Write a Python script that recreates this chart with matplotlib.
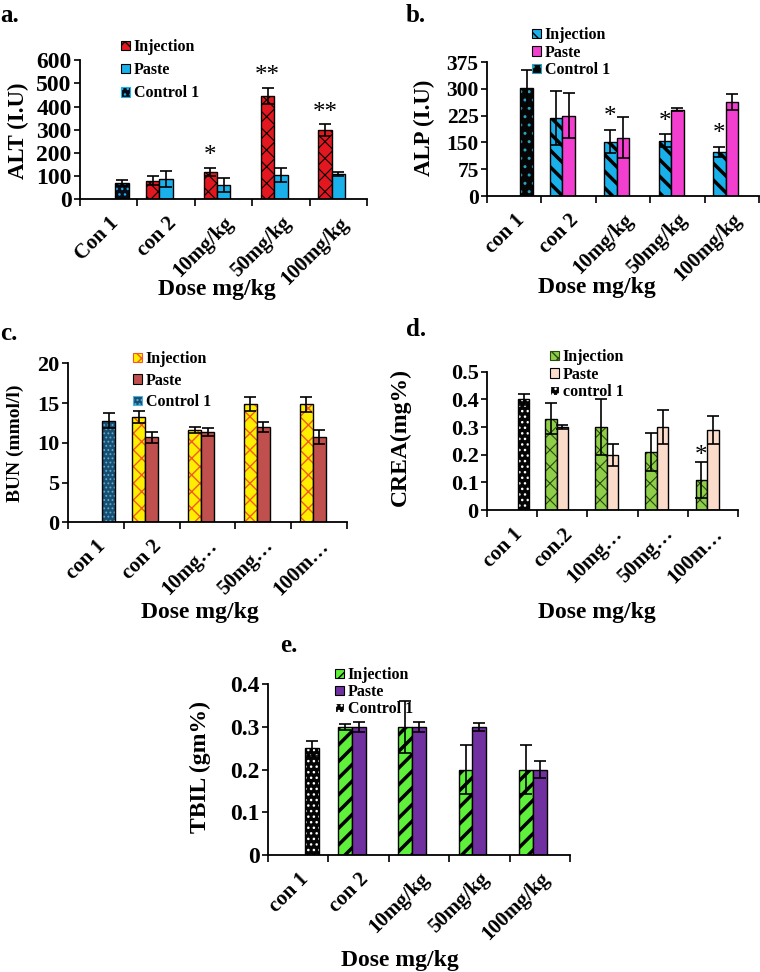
import numpy as np
import matplotlib
matplotlib.use("Agg")
import matplotlib.pyplot as plt
from matplotlib.patches import Patch

plt.rcParams["font.family"] = ["Liberation Serif", "DejaVu Serif"]
plt.rcParams["font.weight"] = "bold"

nan = np.nan

# a. ALT
alt_cats = ["Con 1", "con 2", "10mg/kg", "50mg/kg", "100mg/kg"]
alt_inj = [nan, 80, 118, 447, 298]
alt_inj_err = [0, 20, 17, 35, 25]
alt_paste = [nan, 88, 62, 105, 110]
alt_paste_err = [0, 33, 30, 30, 8]
alt_ctrl = [70, nan, nan, nan, nan]
alt_ctrl_err = [13, 0, 0, 0, 0]
alt_stars = ["", "", "*", "**", "**"]

# b. ALP
alp_cats = ["con 1", "con 2", "10mg/kg", "50mg/kg", "100mg/kg"]
alp_inj = [nan, 218, 152, 155, 124]
alp_inj_err = [0, 75, 33, 18, 14]
alp_paste = [nan, 225, 163, 242, 263]
alp_paste_err = [0, 63, 57, 5, 22]
alp_ctrl = [302, nan, nan, nan, nan]
alp_ctrl_err = [50, 0, 0, 0, 0]
alp_stars = ["", "", "*", "*", "*"]

# c. BUN
bun_cats = ["con 1", "con 2", "10mg…", "50mg…", "100m…"]
bun_inj = [nan, 13.3, 11.6, 14.85, 14.85]
bun_inj_err = [0, 0.75, 0.4, 0.9, 0.95]
bun_paste = [nan, 10.7, 11.4, 12.0, 10.7]
bun_paste_err = [0, 0.7, 0.5, 0.6, 0.9]
bun_ctrl = [12.8, nan, nan, nan, nan]
bun_ctrl_err = [1.0, 0, 0, 0, 0]

# d. CREA
crea_cats = ["con 1", "con.2", "10mg…", "50mg…", "100m…"]
crea_inj = [nan, 0.33, 0.30, 0.21, 0.11]
crea_inj_err = [0, 0.057, 0.10, 0.07, 0.065]
crea_paste = [nan, 0.30, 0.20, 0.30, 0.29]
crea_paste_err = [0, 0.008, 0.04, 0.06, 0.05]
crea_ctrl = [0.40, nan, nan, nan, nan]
crea_ctrl_err = [0.02, 0, 0, 0, 0]
crea_stars = ["", "", "", "", "*"]

# e. TBIL
tbil_cats = ["con 1", "con 2", "10mg/kg", "50mg/kg", "100mg/kg"]
tbil_inj = [nan, 0.30, 0.30, 0.20, 0.20]
tbil_inj_err = [0, 0.006, 0.062, 0.058, 0.058]
tbil_paste = [nan, 0.30, 0.30, 0.30, 0.20]
tbil_paste_err = [0, 0.012, 0.012, 0.01, 0.02]
tbil_ctrl = [0.25, nan, nan, nan, nan]
tbil_ctrl_err = [0.017, 0, 0, 0, 0]

W, H = 760, 972
fig = plt.figure(figsize=(W / 100, H / 100), dpi=100)


def fx(x):
    return x / W


def fy(y):
    return 1 - y / H


def px_axes(left, top, right, bottom):
    return fig.add_axes([fx(left), fy(bottom), (right - left) / W, (bottom - top) / H])


def hatched_bar(ax, x, vals, errs, face, hatch, hcolor, hlw, width):
    with plt.rc_context({"hatch.linewidth": hlw}):
        bars = ax.bar(x, vals, width, color=face, edgecolor=hcolor, hatch=hatch, linewidth=0)
    for b in bars:
        if hasattr(b, "set_hatch_linewidth"):
            b.set_hatch_linewidth(hlw)
    ax.bar(x, vals, width, fill=False, edgecolor="black", linewidth=1)
    ax.errorbar(x, vals, yerr=errs, fmt="none", ecolor="black",
                elinewidth=1.2, capsize=4, capthick=1.2)


def panel(rect, cats, series, ymax, ystep, yfmt, ysize, xsize, stars=None, star_off=0):
    ax = px_axes(*rect)
    x = np.arange(len(cats))
    w = 0.23
    offsets = [-w, 0, w]
    handles = []
    for off, (vals, errs, face, hatch, hcolor, hlw, lab) in zip(offsets, series):
        hatched_bar(ax, x + off, vals, errs, face, hatch, hcolor, hlw, w)
        with plt.rc_context({"hatch.linewidth": min(hlw, 1.2)}):
            handles.append(Patch(facecolor=face, edgecolor=hcolor, hatch=hatch, linewidth=0.8, label=lab))
    if stars:
        vals, errs = series[0][0], series[0][1]
        for i, s in enumerate(stars):
            if s:
                ax.text(x[i] - w, vals[i] + errs[i] + star_off, s, ha="center", va="bottom",
                        fontsize=18, fontweight="normal")
    ax.set_xlim(-0.5, len(cats) - 0.5)
    ax.set_ylim(0, ymax)
    ticks = np.arange(0, ymax + ystep / 2, ystep)
    ax.set_yticks(ticks)
    ax.set_yticklabels([yfmt(t) for t in ticks], fontsize=ysize)
    ax.set_xticks(x)
    ax.set_xticklabels(cats, rotation=45, ha="right", va="top",
                       rotation_mode="anchor", fontsize=xsize)
    ax.set_xticks(np.arange(-0.5, len(cats), 1), minor=True)
    ax.tick_params(axis="x", which="major", length=0, pad=10)
    ax.tick_params(axis="x", which="minor", length=5, width=1.2, direction="out")
    ax.tick_params(axis="y", length=4, width=1.2, direction="out", pad=2)
    for s in ["top", "right"]:
        ax.spines[s].set_visible(False)
    for s in ["left", "bottom"]:
        ax.spines[s].set_linewidth(1.3)
    return ax, handles


def legend(ax, handles, left, top, spacing):
    ax.legend(handles=handles, loc="upper left", bbox_to_anchor=(fx(left), fy(top)),
              bbox_transform=fig.transFigure, frameon=False, fontsize=11.5,
              handlelength=0.55, handleheight=0.55, handletextpad=0.25,
              labelspacing=spacing, borderpad=0, borderaxespad=0)


intfmt = lambda v: f"{v:g}"
decfmt = lambda v: "0" if v == 0 else f"{v:.1f}"

# a
ax_a, h = panel((80, 60.3, 367, 199.3), alt_cats, [
    (alt_inj, alt_inj_err, "#e3171f", "xx", "black", 0.8, "Injection"),
    (alt_paste, alt_paste_err, "#1ab0ea", None, "black", 0.8, "Paste"),
    (alt_ctrl, alt_ctrl_err, "#0b0b18", "...", "#1ab0ea", 1.0, "Control 1"),
], 600, 100, intfmt, 17, 15, alt_stars, 4)
legend(ax_a, h, 121, 39, 0.45)

# b
ax_b, h = panel((487, 62, 759, 196), alp_cats, [
    (alp_inj, alp_inj_err, "#1ab0ea", "\\\\", "black", 2.5, "Injection"),
    (alp_paste, alp_paste_err, "#f23fcf", None, "black", 0.8, "Paste"),
    (alp_ctrl, alp_ctrl_err, "#050505", "..", "#2aa0c0", 1.0, "Control 1"),
], 375, 75, intfmt, 15.5, 15, alp_stars, 4)
legend(ax_b, h, 532, 27, 0.1)

# c
ax_c, h = panel((68, 363.3, 347, 522.3), bun_cats, [
    (bun_inj, bun_inj_err, "#ffee00", "xx", "#f05a20", 1.0, "Injection"),
    (bun_paste, bun_paste_err, "#c0504d", None, "black", 0.8, "Paste"),
    (bun_ctrl, bun_ctrl_err, "#1b4e6e", "....", "#4fb0e0", 0.8, "Control 1"),
], 20, 5, intfmt, 16, 15)
legend(ax_c, h, 133, 351, 0.35)

# d
ax_d, h = panel((487, 371.7, 738, 510), crea_cats, [
    (crea_inj, crea_inj_err, "#8fce48", "xx", "#2a4a10", 0.8, "Injection"),
    (crea_paste, crea_paste_err, "#fbdccb", None, "black", 0.8, "Paste"),
    (crea_ctrl, crea_ctrl_err, "#050505", "...", "white", 1.0, "control 1"),
], 0.5, 0.1, decfmt, 16, 15, crea_stars, -0.02)
legend(ax_d, h, 550, 349, 0.1)

# e
ax_e, h = panel((268, 684.3, 570, 855), tbil_cats, [
    (tbil_inj, tbil_inj_err, "#5ef03a", "//", "black", 2.5, "Injection"),
    (tbil_paste, tbil_paste_err, "#7030a0", None, "black", 0.8, "Paste"),
    (tbil_ctrl, tbil_ctrl_err, "#050505", "...", "white", 1.0, "Control 1"),
], 0.4, 0.1, decfmt, 17, 15)
legend(ax_e, h, 335, 667, 0.07)

# axis titles and panel letters
ylabels = [("ALT (I.U)", 18, 131, 16.5), ("ALP (I.U)", 424, 128, 16.5),
           ("BUN (mmol/l)", 15, 443, 14), ("CREA(mg%)", 400, 437, 17),
           ("TBIL (gm%)", 200, 767, 17)]
for txt, x, y, s in ylabels:
    fig.text(fx(x), fy(y), txt, rotation=90, ha="center", va="center", fontsize=s)

for x, y in [(217, 290), (597, 287), (200, 612), (597, 612), (400, 960)]:
    fig.text(fx(x), fy(y), "Dose mg/kg", ha="center", va="center", fontsize=17)

for txt, x, y in [("a.", 0, 15), ("b.", 406, 16), ("c.", 0, 333), ("d.", 406, 330), ("e.", 280, 645)]:
    fig.text(fx(x), fy(y), txt, ha="left", va="center", fontsize=18)

fig.savefig("out.png", dpi=100)
